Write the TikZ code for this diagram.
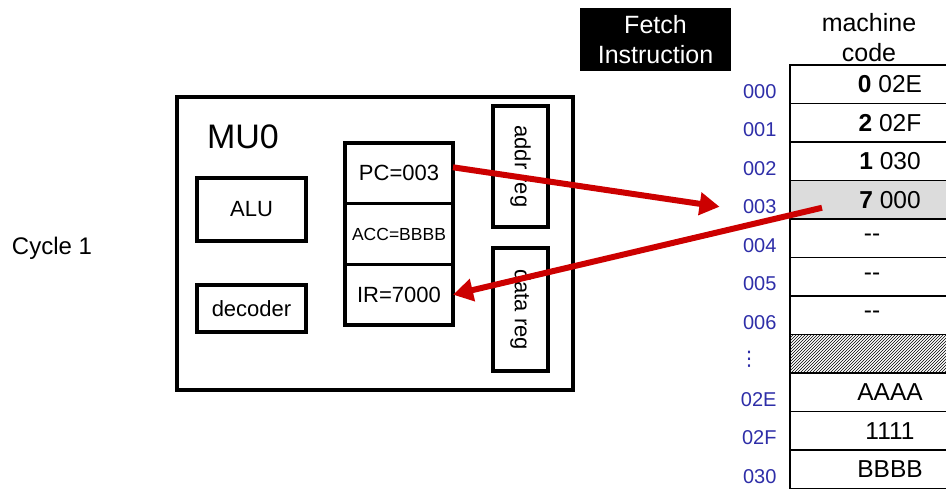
\documentclass[tikz,border=0pt]{standalone}
\usepackage{fontspec}
\setmainfont{Liberation Sans}
\newfontfamily\dotsfont{DejaVu Sans}
\usetikzlibrary{arrows.meta,positioning,patterns}
\definecolor{fetchred}{HTML}{CC0000}
\definecolor{addrblue}{HTML}{2E2EA8}
\definecolor{hitgray}{HTML}{DCDCDC}

\begin{document}
\begin{tikzpicture}[x=1pt,y=-1pt,
  unit/.style={draw,line width=3.5pt,minimum width=109pt,font=\fontsize{22}{26}\selectfont},
  reg/.style={draw,line width=3.5pt,minimum width=108pt,minimum height=60.7pt,outer sep=0pt,inner sep=0pt,font=\fontsize{22}{26}\selectfont},
  bus/.style={draw,line width=3.5pt,rotate=-90,minimum height=55pt,inner sep=0pt,font=\fontsize{22}{26}\selectfont},
  cell/.style={draw,line width=1.2pt,minimum width=200pt,minimum height=38.5pt,outer sep=0pt,inner sep=0pt,font=\fontsize{24.5}{26}\selectfont},
  addr/.style={text=addrblue,font=\fontsize{20}{24}\selectfont,left=10pt of #1,yshift=-7pt},
  fetch/.style={-{Triangle[length=20pt,width=22pt]},line width=6pt,draw=fetchred},
  node distance=0pt
]
\useasboundingbox (0,0) rectangle (946,489);
\clip (0,0) rectangle (946,489);

\node[font=\fontsize{24}{28}\selectfont] (cycle) at (52,248) {Cycle 1};

% processor
\node[draw,line width=3.5pt,minimum width=396pt,minimum height=293pt] (mu) at (375,243.5) {};
\node[font=\fontsize{34}{40}\selectfont] (mutitle) at (243,137) {MU0};
\node[unit,minimum height=63pt] (alu) at (251.5,209.5) {ALU};
\node[unit,minimum height=47pt] (decoder) at (251.5,308.5) {decoder};
\node[reg] (pc) at (399,173.3) {PC=003};
\node[reg,below=of pc,font=\fontsize{17.5}{20}\selectfont] (acc) {ACC=BBBB};
\node[reg,below=of acc] (ir) {IR=7000};
\node[bus,minimum width=121pt] (addrreg) at (520.5,166.5) {addr reg};
\node[bus,minimum width=123pt] (datareg) at (520.5,309.5) {data reg};

% memory
\node[fill=black,text=white,minimum width=151pt,minimum height=63pt,align=center,font=\fontsize{25}{30}\selectfont] (stage) at (655.5,39.5) {Fetch\\Instruction};
\node[align=center,font=\fontsize{25}{30}\selectfont] (memtitle) at (869,38) {machine\\code};
\node[cell] (m0) at (890,84.25) {\textbf{0} 02E};
\node[cell,below=of m0] (m1) {\textbf{2} 02F};
\node[cell,below=of m1] (m2) {\textbf{1} 030};
\node[cell,below=of m2,fill=hitgray] (m3) {\textbf{7} 000};
\node[cell,below=of m3] (m4) {-{}-\hspace*{36pt}};
\node[cell,below=of m4] (m5) {-{}-\hspace*{36pt}};
\node[cell,below=of m5] (m6) {-{}-\hspace*{36pt}};
\node[cell,below=of m6,pattern=north east lines] (m7) {};
\node[cell,below=of m7] (m8) {AAAA};
\node[cell,below=of m8] (m9) {1111};
\node[cell,below=of m9] (m10) {BBBB};

\node[addr=m0] (a0) {000};
\node[addr=m1] (a1) {001};
\node[addr=m2] (a2) {002};
\node[addr=m3] (a3) {003};
\node[addr=m4] (a4) {004};
\node[addr=m5] (a5) {005};
\node[addr=m6] (a6) {006};
\node[text=addrblue,font=\dotsfont\fontsize{20}{24}\selectfont] (a7) at (749,359) {⋮};
\node[addr=m8] (a8) {02E};
\node[addr=m9] (a9) {02F};
\node[addr=m10] (a10) {030};

\draw[fetch] ([yshift=6pt]pc.east) -- ([xshift=-20pt]a3.west);
\draw[fetch] ([xshift=32pt,yshift=-8pt]m3.west) -- (ir.east);
\end{tikzpicture}
\end{document}
